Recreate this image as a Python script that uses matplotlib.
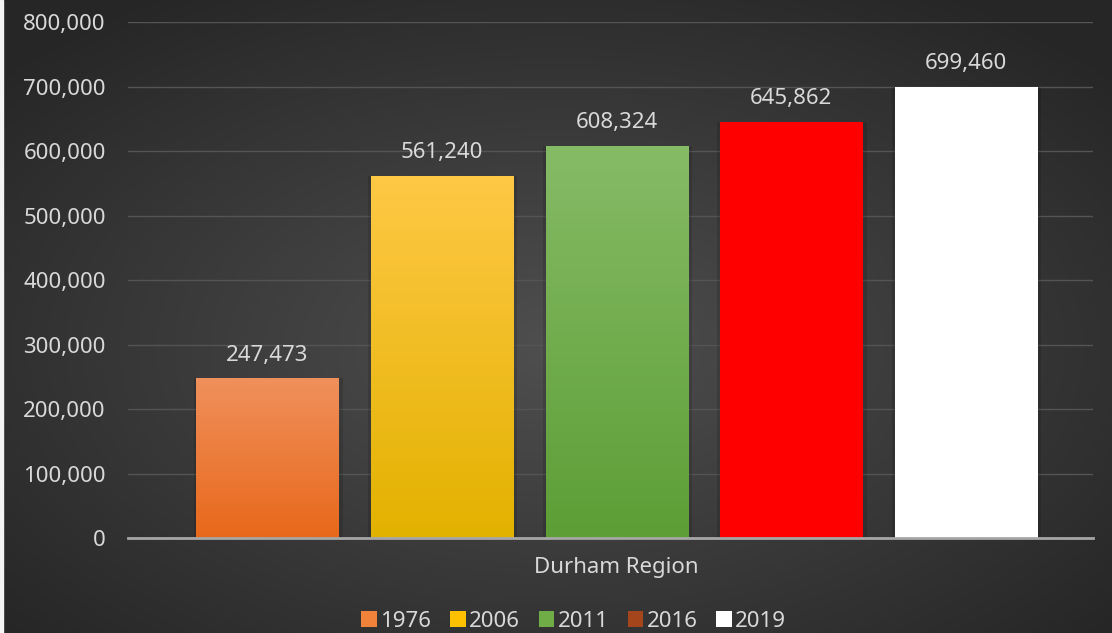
import matplotlib.pyplot as plt
import numpy as np
from matplotlib.patches import Patch, Rectangle
from matplotlib.ticker import FuncFormatter

# population figures for Durham Region
years = ['1976', '2006', '2011', '2016', '2019']
population = [247473, 561240, 608324, 645862, 699460]
region = 'Durham Region'

# top / bottom colours of each bar's vertical gradient
bar_top = ['#f0905c', '#ffc845', '#86bb66', '#ff0000', '#ffffff']
bar_bottom = ['#e8681a', '#e2b200', '#5d9e36', '#ff0000', '#ffffff']
legend_colors = ['#f0823a', '#ffc000', '#70ad47', '#a5451b', '#ffffff']

text_col = '#d9d9d9'
plt.rcParams['font.family'] = ['Noto Sans', 'DejaVu Sans']
fs = 16

fig = plt.figure(figsize=(11.12, 6.33), dpi=100)

# dark radial background
bg = fig.add_axes([0, 0, 1, 1], zorder=-10)
yy, xx = np.mgrid[0:1:300j, 0:1:500j]
r = np.sqrt(((xx - 0.5) / 0.75) ** 2 + ((yy - 0.45) / 0.75) ** 2)
shade = np.clip(0.31 - 0.18 * r, 0.15, 0.31)
bg.imshow(np.dstack([shade, shade, shade]), extent=[0, 1, 0, 1],
          aspect='auto', origin='lower')
bg.set_axis_off()
bg.add_patch(Rectangle((0, 0), 3 / 1112, 1, color='#f4f4f4',
                       transform=bg.transAxes, zorder=5))

ax = fig.add_axes([0.115, 0.150, 0.868, 0.815])
ax.patch.set_alpha(0)

x = np.arange(len(years))
bars = ax.bar(x, population, width=0.814, color='none', zorder=3)

# fill each bar with its gradient
for b, top, bot in zip(bars, bar_top, bar_bottom):
    x0, w, h = b.get_x(), b.get_width(), b.get_height()
    c_top = np.array(plt.matplotlib.colors.to_rgb(top))
    c_bot = np.array(plt.matplotlib.colors.to_rgb(bot))
    t = np.linspace(0, 1, 100)[:, None]
    grad = (c_bot * (1 - t) + c_top * t)[:, None, :]
    # soft shadow behind the bar
    ax.add_patch(Rectangle((x0 - 0.015, 0), w + 0.04, h, color='black',
                           alpha=0.12, lw=0, zorder=2))
    im = ax.imshow(grad, extent=[x0, x0 + w, 0, h], origin='lower',
                   aspect='auto', zorder=3)
    im.set_clip_path(b)
    ax.text(b.get_x() + w / 2, h + 20000, f'{int(h):,}', ha='center',
            va='bottom', color=text_col, fontsize=fs)

ax.set_xlim(-0.80, 4.73)
ax.set_ylim(0, 800000)
ax.set_yticks(np.arange(0, 800001, 100000))
ax.yaxis.set_major_formatter(FuncFormatter(lambda v, p: f'{int(v):,}'))
ax.tick_params(axis='y', length=0, pad=16, labelsize=fs, labelcolor=text_col)
ax.set_xticks([2])
ax.set_xticklabels([region])
ax.tick_params(axis='x', length=0, pad=14, labelsize=fs, labelcolor=text_col)

ax.grid(axis='y', color='#545454', linewidth=1)
ax.set_axisbelow(True)
for s in ['top', 'right', 'left']:
    ax.spines[s].set_visible(False)
ax.spines['bottom'].set_color('#a6a6a6')
ax.spines['bottom'].set_linewidth(2)
ax.spines['bottom'].set_zorder(4)

handles = [Patch(facecolor=c, edgecolor='none') for c in legend_colors]
fig.legend(handles, years, loc='lower center', bbox_to_anchor=(0.516, -0.03),
           ncol=5, frameon=False, fontsize=fs, labelcolor=text_col,
           handlelength=0.7, handleheight=0.7, handletextpad=0.15,
           columnspacing=0.85)

fig.savefig('out.png', dpi=100)
